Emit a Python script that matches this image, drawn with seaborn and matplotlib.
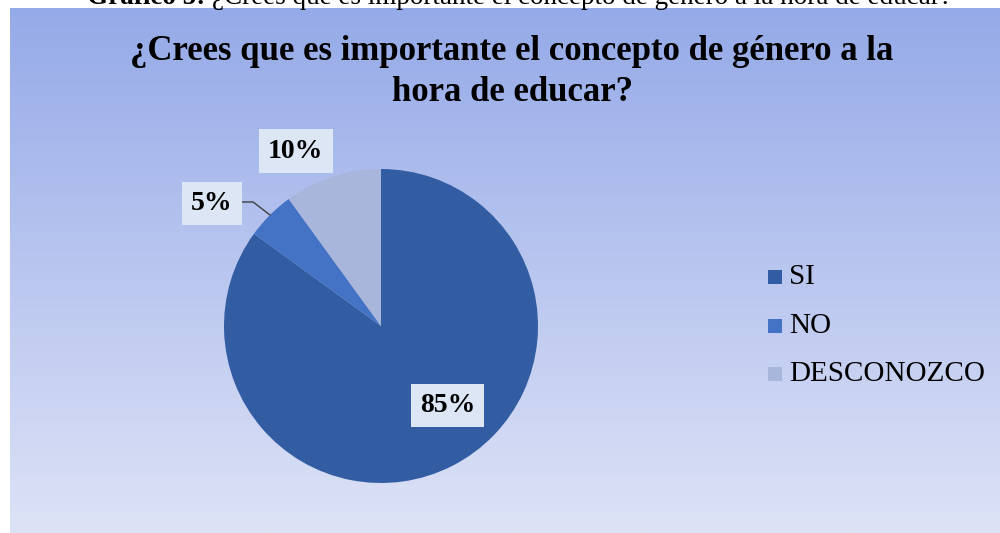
import numpy as np
import matplotlib
matplotlib.use("Agg")
import matplotlib.pyplot as plt
import seaborn as sns

# Datos del gráfico
categorias = ["SI", "NO", "DESCONOZCO"]
porcentajes = [85, 5, 10]
etiquetas = ["85%", "5%", "10%"]
colores = ["#335DA2", "#4472C4", "#A8B6DB"]

titulo = "¿Crees que es importante el concepto de género a la\nhora de educar?"
caption_bold = "Gráfico 5: "
caption_text = "¿Crees que es importante el concepto de género a la hora de educar?"

sns.set_theme(style="white")
plt.rcParams['font.family'] = ['Liberation Serif', 'DejaVu Serif']
plt.rcParams['text.color'] = 'black'

W, H = 1000, 533
fig = plt.figure(figsize=(W / 100, H / 100), dpi=100)
fig.patch.set_facecolor("white")

# --- Fondo con degradado ---
top_px = 8
bg = fig.add_axes([10 / W, 0, 1 - 10 / W, (H - top_px) / H])
c_top = np.array([149, 170, 232]) / 255
c_bot = np.array([221, 226, 246]) / 255
t = np.linspace(0, 1, 256)[:, None]
grad = (c_top[None, :] * (1 - t) + c_bot[None, :] * t)[:, None, :]
bg.imshow(grad, aspect="auto", extent=[0, 1, 0, 1], interpolation="bilinear")
bg.set_axis_off()

# Pie de figura (cortado arriba)
cap1 = bg.annotate(caption_bold, xy=(87 / W, 1 - 4 / H), xycoords="figure fraction",
                   ha="left", va="baseline", fontsize=19.5, fontweight="bold",
                   annotation_clip=False)
bg.annotate(caption_text, xy=(1, 0), xycoords=cap1, ha="left", va="bottom",
            fontsize=19.5, annotation_clip=False)

# --- Título ---
fig.text(512 / W, 1 - 72 / H, titulo, ha="center", va="center",
         fontsize=25, fontweight="bold", linespacing=1.32)

# --- Pastel ---
cx, cy, R = 381, 326, 157
lim = 1.5
half = R * lim
ax = fig.add_axes([(cx - half) / W, (H - cy - half) / H, 2 * half / W, 2 * half / H])

wedges, _ = ax.pie(porcentajes, colors=colores, startangle=90, counterclock=False,
                   radius=1, wedgeprops=dict(linewidth=0))
ax.set_xlim(-lim, lim)
ax.set_ylim(-lim, lim)
ax.set_aspect("equal")
ax.set_axis_off()

# posición de etiquetas: (radio, desplazamiento angular) respecto al centro de la cuña
label_layout = [(0.66, 13), (1.33, 9), (1.24, 8)]
for w, lab, (r, dang) in zip(wedges, etiquetas, label_layout):
    mid = np.deg2rad((w.theta1 + w.theta2) / 2)
    ang = mid + np.deg2rad(dang)
    x, y = r * np.cos(ang), r * np.sin(ang)
    ax.text(x, y, lab, ha="center", va="center", fontsize=20, fontweight="bold",
            bbox=dict(boxstyle="square,pad=0.33", fc="#DDE6F4", ec="none"))
    if lab == "5%":
        ex, ey = np.cos(mid), np.sin(mid)
        ax.plot([ex, -0.815, -0.89], [ey, 0.79, 0.79], color="#404040", lw=1)

# --- Leyenda ---
leg_y = [277, 326, 374]
for cat, col, yy in zip(categorias, colores, leg_y):
    fig.patches.append(plt.Rectangle((768 / W, 1 - (yy + 7) / H), 14 / W, 14 / H,
                                     transform=fig.transFigure, fc=col, ec="none"))
    fig.text(789 / W, 1 - yy / H, cat, ha="left", va="center", fontsize=21)

fig.savefig("out.png", dpi=100)
